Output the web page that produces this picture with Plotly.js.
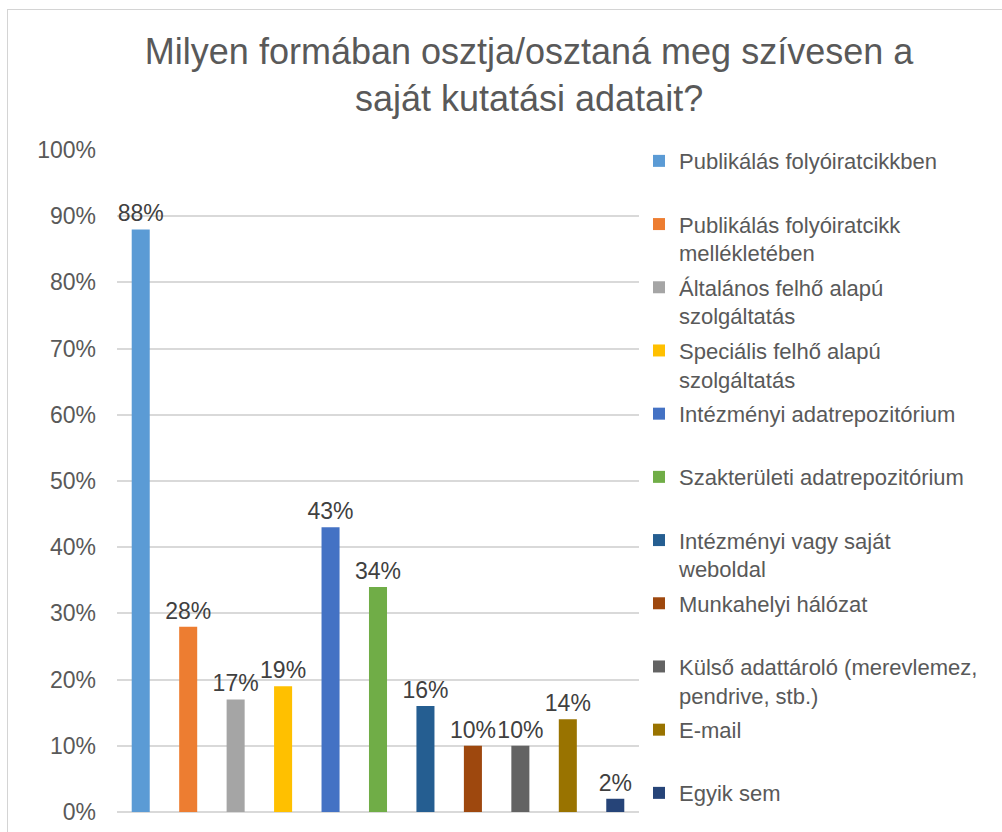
<!DOCTYPE html>
<html>
<head>
<meta charset="utf-8">
<script src="https://cdn.plot.ly/plotly-3.0.1.min.js"></script>
<style>
  html, body { margin: 0; padding: 0; background: #ffffff; overflow: hidden; }
  #frame { position: absolute; left: 7px; top: 9px; width: 1200px; height: 1000px; border: 1px solid #d4d4d4; box-sizing: border-box; }
  #chart { position: absolute; left: 0; top: 0; width: 1002px; height: 832px; }
</style>
</head>
<body>
<div id="frame"></div>
<div id="chart"></div>
<script>
const categories = [
  "Publikálás folyóiratcikkben",
  "Publikálás folyóiratcikk<br>mellékletében",
  "Általános felhő alapú<br>szolgáltatás",
  "Speciális felhő alapú<br>szolgáltatás",
  "Intézményi adatrepozitórium",
  "Szakterületi adatrepozitórium",
  "Intézményi vagy saját<br>weboldal",
  "Munkahelyi hálózat",
  "Külső adattároló (merevlemez,<br>pendrive, stb.)",
  "E-mail",
  "Egyik sem"
];
const values = [0.88, 0.28, 0.17, 0.19, 0.43, 0.34, 0.16, 0.10, 0.10, 0.14, 0.02];
const valueLabels = ["88%", "28%", "17%", "19%", "43%", "34%", "16%", "10%", "10%", "14%", "2%"];
const colors = ["#5B9BD5", "#ED7D31", "#A5A5A5", "#FFC000", "#4472C4", "#70AD47",
                "#255E91", "#9E480E", "#636363", "#997300", "#264478"];
const yTickVals = [0, 0.1, 0.2, 0.3, 0.4, 0.5, 0.6, 0.7, 0.8, 0.9, 1.0];
const yTickText = ["0%", "10%", "20%", "30%", "40%", "50%", "60%", "70%", "80%", "90%", "100%"];

const font = "Liberation Sans, Arial, sans-serif";
const last = categories.length - 1;

const traces = categories.map((c, i) => ({
  type: "bar",
  name: (c.indexOf("<br>") >= 0 || i === last) ? c : c + "<br> ",
  x: [c],
  y: [values[i]],
  text: [valueLabels[i]],
  textposition: "outside",
  constraintext: "none",
  cliponaxis: false,
  textfont: { family: font, size: 23, color: "#404040" },
  marker: { color: colors[i] },
  width: 0.38,
  legendgroup: "g" + i,
  hoverinfo: "skip"
}));

const layout = {
  width: 1002,
  height: 832,
  margin: { l: 117, r: 363, t: 150, b: 20 },
  paper_bgcolor: "rgba(0,0,0,0)",
  plot_bgcolor: "rgba(0,0,0,0)",
  barmode: "overlay",
  font: { family: font, color: "#595959" },
  title: {
    text: "Milyen formában osztja/osztaná meg szívesen a<br>saját kutatási adatait?",
    font: { family: font, size: 36, color: "#595959" },
    xref: "container", x: 0.528, xanchor: "center",
    yref: "container", y: 0.923, yanchor: "top"
  },
  xaxis: {
    type: "category",
    showticklabels: false,
    showgrid: false,
    zeroline: false,
    showline: false,
    ticks: ""
  },
  yaxis: {
    range: [0, 1],
    tickvals: yTickVals,
    ticktext: yTickText,
    tickfont: { family: font, size: 23, color: "#595959" },
    showgrid: true,
    gridcolor: "#d9d9d9",
    gridwidth: 2,
    zeroline: true,
    zerolinecolor: "#d9d9d9",
    zerolinewidth: 2,
    showline: false,
    ticks: "",
    ticklabelstandoff: 20
  },
  legend: {
    x: 1.0, xanchor: "left",
    y: 1.015, yanchor: "top",
    maxheight: 1,
    traceorder: "grouped",
    tracegroupgap: 3,
    valign: "top",
    font: { family: font, size: 22, color: "#595959" },
    bgcolor: "rgba(0,0,0,0)"
  },
  showlegend: true
};

Plotly.newPlot("chart", traces, layout, { displayModeBar: false, staticPlot: true });
</script>
</body>
</html>
